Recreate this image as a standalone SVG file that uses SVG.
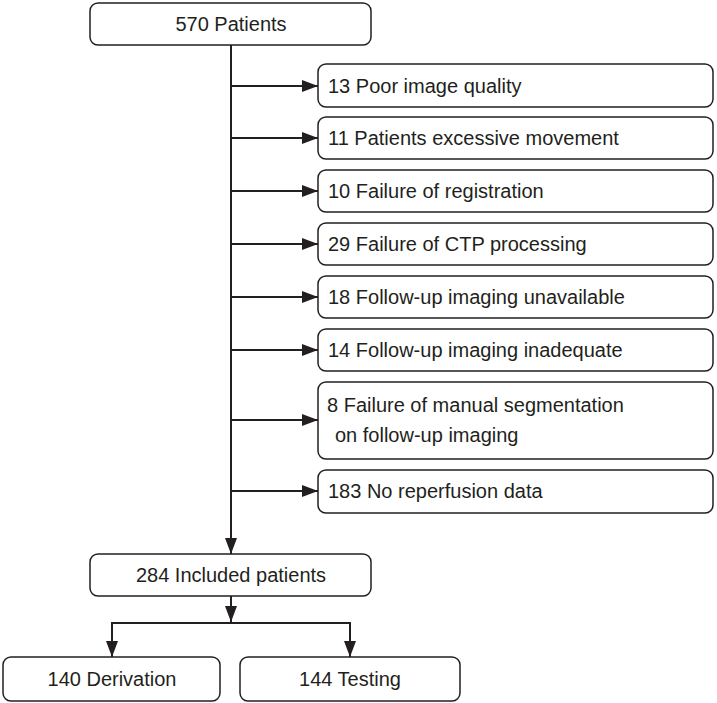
<svg xmlns="http://www.w3.org/2000/svg" width="717" height="703" viewBox="0 0 717 703">
<defs>
<style>
.box{fill:#fff;stroke:#231f20;stroke-width:1.5}
.t{font-family:"Liberation Sans",Arial,sans-serif;font-size:20px;fill:#231f20}
.c{text-anchor:middle}
.ln{stroke:#231f20;stroke-width:2;fill:none}
</style>
<marker id="ah" viewBox="0 0 16 12" refX="16" refY="6" markerWidth="16" markerHeight="12" markerUnits="userSpaceOnUse" orient="auto">
<path d="M0,0 L16,6 L0,12 Z" fill="#231f20"/>
</marker>
</defs>
<rect width="717" height="703" fill="#fff"/>
<g id="connectors">
<line class="ln" x1="231" y1="45" x2="231" y2="554" marker-end="url(#ah)"/>
<line class="ln" x1="231" y1="86" x2="318" y2="86" marker-end="url(#ah)"/>
<line class="ln" x1="231" y1="138" x2="318" y2="138" marker-end="url(#ah)"/>
<line class="ln" x1="231" y1="191" x2="318" y2="191" marker-end="url(#ah)"/>
<line class="ln" x1="231" y1="244" x2="318" y2="244" marker-end="url(#ah)"/>
<line class="ln" x1="231" y1="297" x2="318" y2="297" marker-end="url(#ah)"/>
<line class="ln" x1="231" y1="350" x2="318" y2="350" marker-end="url(#ah)"/>
<line class="ln" x1="231" y1="420" x2="318" y2="420" marker-end="url(#ah)"/>
<line class="ln" x1="231" y1="491" x2="318" y2="491" marker-end="url(#ah)"/>
<line class="ln" x1="231" y1="596" x2="231" y2="622" marker-end="url(#ah)"/>
<polyline class="ln" points="112,640 112,623 350,623 350,640"/>
<line class="ln" x1="112" y1="623" x2="112" y2="657" marker-end="url(#ah)"/>
<line class="ln" x1="350" y1="623" x2="350" y2="657" marker-end="url(#ah)"/>
</g>
<g id="n-570">
<rect class="box" x="90" y="3" width="281" height="42" rx="8"/>
<text class="t c" x="231" y="31">570 Patients</text>
</g>
<g id="n-13">
<rect class="box" x="318" y="64" width="395" height="43" rx="8"/>
<text class="t" x="328" y="93">13 Poor image quality</text>
</g>
<g id="n-11">
<rect class="box" x="318" y="117" width="395" height="42" rx="8"/>
<text class="t" x="328" y="145">11 Patients excessive movement</text>
</g>
<g id="n-10">
<rect class="box" x="318" y="170" width="395" height="42" rx="8"/>
<text class="t" x="328" y="198">10 Failure of registration</text>
</g>
<g id="n-29">
<rect class="box" x="318" y="223" width="395" height="42" rx="8"/>
<text class="t" x="328" y="251">29 Failure of CTP processing</text>
</g>
<g id="n-18">
<rect class="box" x="318" y="276" width="395" height="42" rx="8"/>
<text class="t" x="328" y="304">18 Follow-up imaging unavailable</text>
</g>
<g id="n-14">
<rect class="box" x="318" y="329" width="395" height="42" rx="8"/>
<text class="t" x="328" y="357">14 Follow-up imaging inadequate</text>
</g>
<g id="n-8">
<rect class="box" x="318" y="382" width="395" height="77" rx="8"/>
<text class="t" x="327" y="412">8 Failure of manual segmentation</text>
<text class="t" x="335" y="442">on follow-up imaging</text>
</g>
<g id="n-183">
<rect class="box" x="318" y="470" width="395" height="43" rx="8"/>
<text class="t" x="328" y="498">183 No reperfusion data</text>
</g>
<g id="n-284">
<rect class="box" x="90" y="554" width="281" height="42" rx="8"/>
<text class="t c" x="231" y="582">284 Included patients</text>
</g>
<g id="n-140">
<rect class="box" x="3" y="657" width="217" height="44" rx="8"/>
<text class="t c" x="112" y="686">140 Derivation</text>
</g>
<g id="n-144">
<rect class="box" x="240" y="657" width="220" height="44" rx="8"/>
<text class="t c" x="350" y="686">144 Testing</text>
</g>
</svg>
